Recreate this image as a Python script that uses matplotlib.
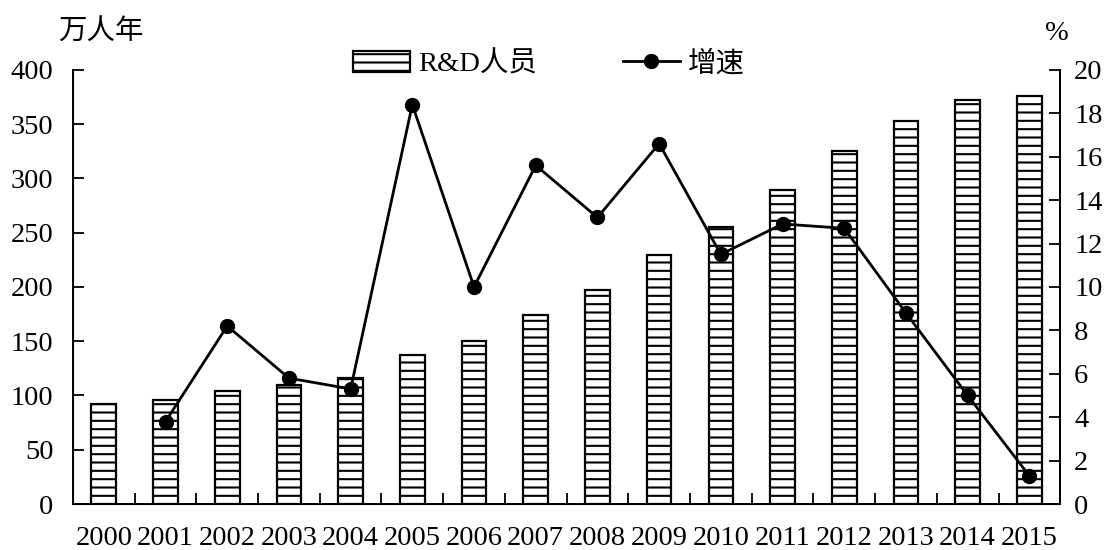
import numpy as np
import matplotlib
matplotlib.use('Agg')
import matplotlib.pyplot as plt
from matplotlib.ticker import MultipleLocator

plt.rcParams['font.family'] = ['Liberation Serif', 'Noto Sans CJK SC']
plt.rcParams['hatch.linewidth'] = 1.5
plt.rcParams['hatch.color'] = 'black'

# R&D人员 (万人年) and 增速 (%)
years = ['2000', '2001', '2002', '2003', '2004', '2005', '2006', '2007',
         '2008', '2009', '2010', '2011', '2012', '2013', '2014', '2015']
staff = [92, 96, 104, 110, 116, 137, 150, 174, 197, 229, 255, 289, 325, 353, 372, 376]
growth_years = years[1:]
growth = [3.8, 8.2, 5.8, 5.3, 18.4, 10.0, 15.6, 13.2, 16.6, 11.5, 12.9, 12.7, 8.8, 5.0, 1.3]

fs = 20.5

fig = plt.figure(figsize=(11.09, 5.5), dpi=100)
ax = fig.add_axes([0.0658, 0.0836, 0.8902, 0.7894])

x = np.arange(len(years))
bars = ax.bar(x, staff, width=0.4, color='white', edgecolor='black',
              linewidth=1.6, hatch='--', label='R&D人员', zorder=2)

ax.set_xlim(-0.5, len(years) - 0.5)
ax.set_ylim(0, 400)
ax.set_yticks(np.arange(0, 401, 50))
ax.set_xticks(x)
ax.set_xticklabels(years)
ax.xaxis.set_minor_locator(MultipleLocator(1.0, offset=0.5))
ax.tick_params(axis='x', which='major', length=0, labelsize=fs, pad=16)
ax.tick_params(axis='x', which='minor', direction='in', length=8, width=1.3)
ax.tick_params(axis='y', direction='in', length=8, width=1.3, labelsize=fs, pad=14)

ax.spines['top'].set_visible(False)
for s in ['left', 'bottom', 'right']:
    ax.spines[s].set_linewidth(1.4)

ax2 = ax.twinx()
xi = [years.index(y) for y in growth_years]
line, = ax2.plot(xi, growth, color='black', linewidth=2, marker='o',
                 markersize=10, label='增速', zorder=3)
ax2.set_ylim(0, 20)
ax2.set_yticks(np.arange(0, 21, 2))
ax2.tick_params(axis='y', direction='in', length=8, width=1.3, labelsize=fs, pad=10)
ax2.spines['top'].set_visible(False)
ax2.spines['right'].set_linewidth(1.4)

fig.text(0.052, 0.94, '万人年', fontsize=fs, ha='left', va='center')
fig.text(0.942, 0.94, '%', fontsize=fs, ha='left', va='center')

fig.legend([bars, line], ['R&D人员', '增速'], loc='center', bbox_to_anchor=(0.495, 0.883),
           ncol=2, frameon=False, fontsize=fs, handlelength=2.0, handleheight=0.75,
           columnspacing=3.0, handletextpad=0.3)

fig.savefig('out.png', dpi=100)
